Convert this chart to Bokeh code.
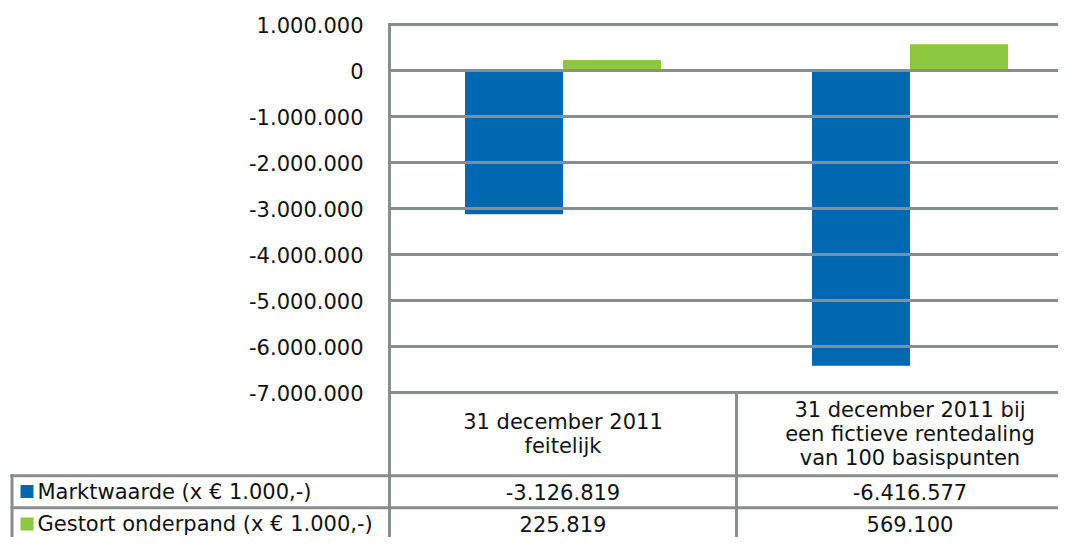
from bokeh.plotting import figure
from bokeh.models import Range1d
from bokeh.core.properties import value
from bokeh.embed import file_html
from bokeh.resources import INLINE

# ---------------- data ----------------
categories = [
    ["31 december 2011", "feitelijk"],
    ["31 december 2011 bij", "een fictieve rentedaling", "van 100 basispunten"],
]
series_names = ["Marktwaarde (x \u20ac 1.000,-)", "Gestort onderpand (x \u20ac 1.000,-)"]
marktwaarde = [-3126819, -6416577]
gestort_onderpand = [225819, 569100]
y_ticks = [1000000, 0, -1000000, -2000000, -3000000, -4000000, -5000000, -6000000, -7000000]
y_tick_labels = ["1.000.000", "0", "-1.000.000", "-2.000.000", "-3.000.000",
                 "-4.000.000", "-5.000.000", "-6.000.000", "-7.000.000"]

# ---------------- styling / geometry ----------------
BLUE = "#0067B1"
GREEN = "#8DC63F"
GRID = "#868E8E"
TEXT = "#111111"
FONT = "DejaVu Sans"
FS = "21px"

W, H = 1058, 537
AX_X = 389                # x (px) of value axis
CAT_W = 347               # pixels per category
ZERO_Y = 70               # y (px) of zero line
PX_PER_VAL = 46 / 1e6     # pixels per unit value
BAR_PX = 98
TABLE_TOP = 392           # y (px) of the bottom gridline / table top
K = (H - TABLE_TOP) / (553 - TABLE_TOP)   # vertical compression of the table


def fx(px):
    return (px - AX_X) / CAT_W


def fy(py):
    return -(py - ZERO_Y) / PX_PER_VAL


def ty(py):
    """table y position (px) -> data y, with table slightly compressed"""
    return fy(TABLE_TOP + (py - TABLE_TOP) * K)


p = figure(width=W, height=H, output_backend="svg", toolbar_location=None,
           x_range=Range1d(fx(0), fx(W)), y_range=Range1d(fy(H), fy(0)),
           x_axis_location=None, y_axis_location=None, min_border=0)
p.grid.visible = False
p.outline_line_color = None
p.background_fill_color = "white"
p.border_fill_color = "white"

n = len(categories)
centers = [i + 0.5 for i in range(n)]
bw = BAR_PX / CAT_W

# bars
p.vbar(x=[c - bw / 2 for c in centers], top=marktwaarde, bottom=0, width=bw,
       fill_color=BLUE, line_color=None)
p.vbar(x=[c + bw / 2 for c in centers], top=gestort_onderpand, bottom=0, width=bw,
       fill_color=GREEN, line_color=None)

# grid / table lines
XR = fx(W + 20)
YB = fy(H + 20)
TL = fx(11.5)
ROW1_Y = ty(484.5)
ROW2_Y = ty(520)
x0, y0, x1, y1 = [], [], [], []
for t in y_ticks:
    x0.append(0); y0.append(t); x1.append(XR); y1.append(t)
# value axis
x0.append(0); y0.append(y_ticks[0]); x1.append(0); y1.append(YB)
# category dividers inside table
for i in range(1, n):
    x0.append(i); y0.append(y_ticks[-1]); x1.append(i); y1.append(YB)
# table left border and row lines
x0.append(TL); y0.append(ROW1_Y); x1.append(TL); y1.append(YB)
for ry in (ROW1_Y, ROW2_Y):
    x0.append(TL); y0.append(ry); x1.append(XR); y1.append(ry)
p.segment(x0=x0, y0=y0, x1=x1, y1=y1, line_color=GRID, line_width=3, line_cap="square")

# y tick labels
p.text(x=[fx(363)] * len(y_ticks), y=y_ticks, text=y_tick_labels,
       text_align="right", text_baseline="middle", text_font=value(FONT),
       text_font_size=FS, text_color=TEXT)

# category header texts
hx, hy, ht = [], [], []
for i, lines in enumerate(categories):
    m = len(lines)
    for j, s in enumerate(lines):
        hx.append(centers[i])
        hy.append(ty(438 + (j - (m - 1) / 2) * 27))
        ht.append(s)
p.text(x=hx, y=hy, text=ht, text_align="center", text_baseline="middle",
       text_font=value(FONT), text_font_size=FS, text_color=TEXT)


# table values
def fmt(v):
    return f"{v:,}".replace(",", ".")


row_ys = [ty(502), ty(538)]
vx, vy, vt = [], [], []
for r, series in enumerate([marktwaarde, gestort_onderpand]):
    for i, v in enumerate(series):
        vx.append(centers[i]); vy.append(row_ys[r]); vt.append(fmt(v))
p.text(x=vx, y=vy, text=vt, text_align="center", text_baseline="middle",
       text_font=value(FONT), text_font_size=FS, text_color=TEXT)

# legend keys + row labels
p.scatter(x=[fx(26.5)] * 2, y=row_ys, marker="square", size=13,
          fill_color=[BLUE, GREEN], line_color=None)
p.text(x=[fx(37)] * 2, y=row_ys, text=series_names, text_align="left",
       text_baseline="middle", text_font=value(FONT), text_font_size=FS, text_color=TEXT)

open("out.html", "w").write(file_html(p, INLINE))
